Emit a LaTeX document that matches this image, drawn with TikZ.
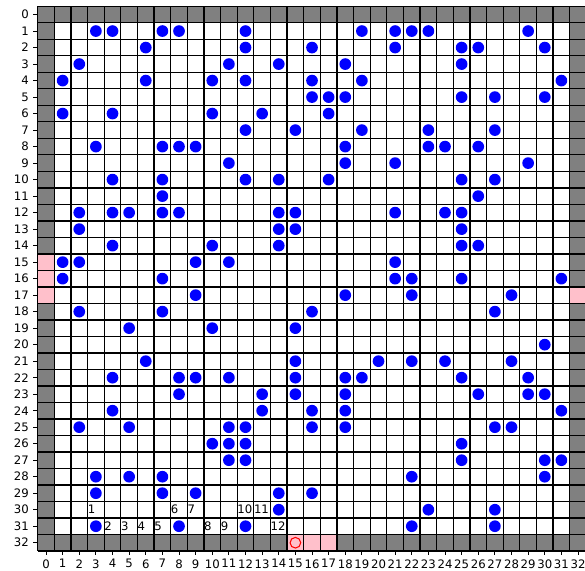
\documentclass[tikz,border=0pt]{standalone}
\usepackage{fontspec}
\setmainfont{DejaVu Sans}
\definecolor{mplpink}{HTML}{FFC0CB}
\definecolor{mplgray}{HTML}{808080}
\begin{document}
\begin{tikzpicture}[x=0.5cm, y=-0.4964cm,
  gridline/.style={line width=1.1pt, black},
  tickline/.style={line width=0.8pt, black},
  ticklab/.style={inner sep=0pt, font=\fontsize{10}{12}\selectfont},
  celllab/.style={inner sep=0pt, anchor=west, font=\fontsize{10}{12}\selectfont},
  dot/.style={circle, fill=blue, draw=none, inner sep=0pt, minimum size=0.352cm},
  target/.style={circle, draw=red, line width=0.9pt, inner sep=0pt, minimum size=0.32cm}]
\useasboundingbox (-2.768,-0.882) rectangle (32.42,33.71);
% background cells
\fill[white] (-0.5,-0.5) rectangle (32.5,32.5);
\fill[mplgray] (-0.5,-0.5) rectangle (32.5,0.5);
\fill[mplgray] (-0.5,31.5) rectangle (32.5,32.5);
\fill[mplgray] (-0.5,-0.5) rectangle (0.5,32.5);
\fill[mplgray] (31.5,-0.5) rectangle (32.5,32.5);
\foreach \r in {15,16,17} {\fill[mplpink] (-0.5,\r-0.5) rectangle ++(1,1);}
\fill[mplpink] (31.5,16.5) rectangle ++(1,1);
\foreach \c in {15,16,17} {\fill[mplpink] (\c-0.5,31.5) rectangle ++(1,1);}
% grid lines
\foreach \i in {0,...,33} {
  \draw[gridline] (\i-0.5,-0.5) -- (\i-0.5,32.5);
  \draw[gridline] (-0.5,\i-0.5) -- (32.5,\i-0.5);
}
% ticks and labels
\foreach \i in {0,...,32} {
  \draw[tickline] (-0.5,\i) -- (-0.765,\i);
  \node[ticklab, anchor=east] (yl\i) at (-1.02,\i) {\i};
  \draw[tickline] (\i,32.5) -- (\i,32.76);
  \node[ticklab, anchor=north] (xl\i) at (\i,33.0) {\i};
}
% dots
\foreach \r/\cols in {
  1/{3,4,7,8,12,19,21,22,23,29},
  2/{6,12,16,21,25,26,30},
  3/{2,11,14,18,25},
  4/{1,6,10,12,16,19,31},
  5/{16,17,18,25,27,30},
  6/{1,4,10,13,17},
  7/{12,15,19,23,27},
  8/{3,7,8,9,18,23,24,26},
  9/{11,18,21,29},
  10/{4,7,12,14,17,25,27},
  11/{7,26},
  12/{2,4,5,7,8,14,15,21,24,25},
  13/{2,14,15,25},
  14/{4,10,14,25,26},
  15/{1,2,9,11,21},
  16/{1,7,21,22,25,31},
  17/{9,18,22,28},
  18/{2,7,16,27},
  19/{5,10,15},
  20/{30},
  21/{6,15,20,22,24,28},
  22/{4,8,9,11,15,18,19,25,29},
  23/{8,13,15,18,26,29,30},
  24/{4,13,16,18,31},
  25/{2,5,11,12,16,18,27,28},
  26/{10,11,12,25},
  27/{11,12,25,30,31},
  28/{3,5,7,22,30},
  29/{3,7,9,14,16},
  30/{14,23,27},
  31/{3,8,12,22,27}} {
  \foreach \c in \cols {
    \node[dot] (d-\r-\c) at (\c,\r) {};
  }
}
% target
\node[target] (goal) at (15,32) {};
% cell labels
\foreach \n/\c/\r in {1/3/30, 2/4/31, 3/5/31, 4/6/31, 5/7/31, 6/8/30, 7/9/30,
  8/10/31, 9/11/31, 10/12/30, 11/13/30, 12/14/31} {
  \node[celllab] (lab\n) at (\c-0.5,\r) {\n};
}
\end{tikzpicture}
\end{document}
